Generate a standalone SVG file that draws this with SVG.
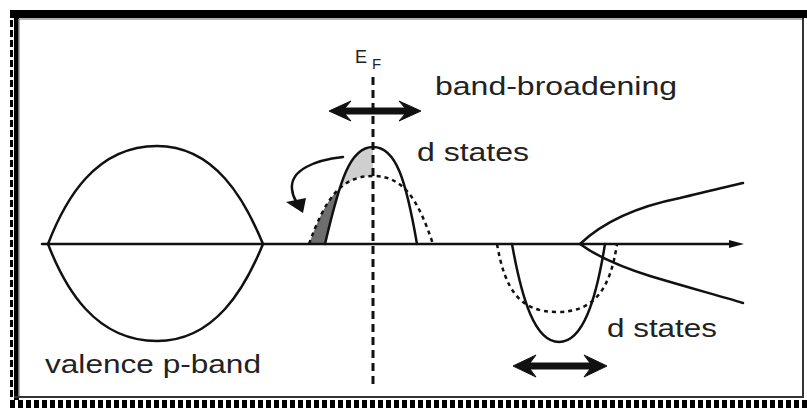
<svg xmlns="http://www.w3.org/2000/svg" width="807" height="408" viewBox="0 0 807 408">
<style>
.ln{fill:none;stroke:#111;stroke-width:2.5;stroke-linejoin:round;stroke-linecap:round}
.dot{fill:none;stroke:#111;stroke-width:2.5;stroke-dasharray:4 4}
.lbl{font-family:"Liberation Sans",Arial,sans-serif;font-size:25px;fill:#222}
.arr{fill:#111;stroke:#111;stroke-width:1;stroke-linejoin:round}
</style>
<rect x="0" y="0" width="807" height="408" fill="#fff"/>
<g id="frame">
<rect x="10" y="10" width="797" height="8" fill="#000"/>
<rect x="14" y="10" width="5" height="390" fill="#000"/>
<line x1="11.5" y1="10" x2="11.5" y2="408" stroke="#000" stroke-width="3" stroke-dasharray="7 3"/>
<line x1="19" y1="19" x2="19" y2="397" stroke="#999" stroke-width="1.5"/>
<line x1="19" y1="19" x2="803" y2="19" stroke="#999" stroke-width="1.5"/>
<line x1="803" y1="18" x2="803" y2="398" stroke="#333" stroke-width="2"/>
<line x1="14" y1="397" x2="804" y2="397" stroke="#333" stroke-width="2"/>
<line x1="10" y1="404" x2="807" y2="404" stroke="#000" stroke-width="8" stroke-dasharray="5 3"/>
</g>
<g id="shading">
<polygon points="339.8,188.5 341.75,182.2 346,171.5 350.5,162.7 355.3,155.9 360.6,150.9 366.5,148 373,147 373,176 363.6,176.7 355.2,178.8 347.6,182.4 340.8,187.3" fill="#cfcfcf"/>
<polygon points="339.8,188.5 334.6,193.5 328.9,201.1 323.6,209.9 318.6,220 313.8,231.4 309,244 325,244 329.4,225.8 333.5,209.3 337.7,194.8" fill="#6e6e6e"/>
</g>
<g id="connectors">
<line class="ln" x1="42" y1="244" x2="733" y2="244"/>
<polygon points="744,244 729,240 729,248" fill="#111"/>
<line x1="373" y1="77" x2="373" y2="386" stroke="#111" stroke-width="3" stroke-dasharray="8 5"/>
<path class="arr" d="M329,111 L351,101 L345,108 L405,108 L399,101 L421,111 L399,121 L405,114 L345,114 L351,121 Z"/>
<path class="arr" d="M513,366 L536,355 L530,363 L590,363 L584,355 L607,366 L584,377 L590,369 L530,369 L536,377 Z"/>
<path class="ln" d="M343,157 C315,160 290,170 292,189 C292.5,194 294,198 296,201"/>
<polygon points="303,213 286,202 306,198" fill="#111"/>
</g>
<g id="p-band">
<path class="ln" d="M48,244 C65,200 95,146 157,146 C215,146 245,200 263,244"/>
<path class="ln" d="M48,244 C65,288 95,341 157,341 C215,341 245,288 263,244"/>
<text class="lbl" x="45" y="373" textLength="216" lengthAdjust="spacingAndGlyphs">valence p-band</text>
</g>
<g id="d-states-up">
<path class="ln" d="M325,244 C340,180 350,147 373,147 C396,147 406,180 417,244"/>
<path class="dot" d="M309,244 C325,200 340,176 373,176 C404,176 418,200 433,244"/>
<text class="lbl" x="417" y="161" textLength="112" lengthAdjust="spacingAndGlyphs">d states</text>
</g>
<g id="d-states-down">
<path class="ln" d="M512,244 C522,300 535,342 559,342 C583,342 596,300 605,244"/>
<path class="dot" d="M497,244 C505,290 520,312 557,312 C594,312 610,290 617,244"/>
<text class="lbl" x="607" y="337" textLength="110" lengthAdjust="spacingAndGlyphs">d states</text>
</g>
<g id="free-band">
<path class="ln" d="M580,244 C600,225 630,208 680,198 C705,192 725,187 743,183"/>
<path class="ln" d="M580,244 C595,255 615,265 650,276 C690,288 720,296 743,303"/>
</g>
<g id="labels">
<text class="lbl" x="435" y="95" textLength="242" lengthAdjust="spacingAndGlyphs">band-broadening</text>
<text x="355" y="63" font-family="Liberation Sans, Arial, sans-serif" font-size="18" fill="#222">E</text>
<text x="372" y="69" font-family="Liberation Sans, Arial, sans-serif" font-size="15" fill="#222">F</text>
</g>
</svg>
